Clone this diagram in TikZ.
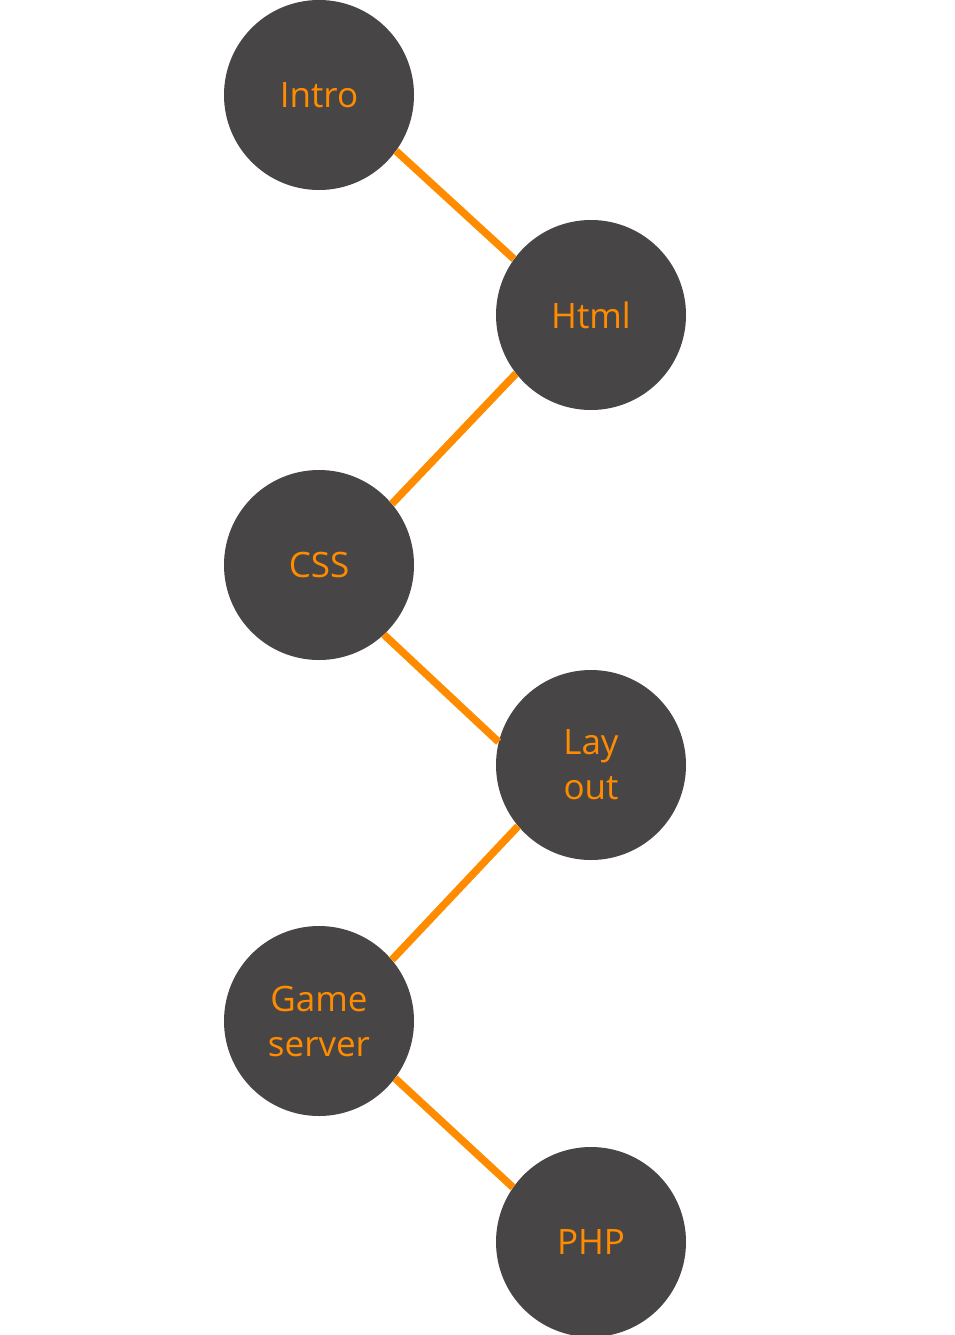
\documentclass[tikz,border=0pt]{standalone}
\usepackage{fontspec}
\setmainfont{Open Sans}
\definecolor{nodegray}{HTML}{474546}
\definecolor{accent}{HTML}{FF8C00}
\begin{document}
\begin{tikzpicture}[x=1pt,y=-1pt,
  topic/.style={circle,fill=nodegray,minimum size=190pt,inner sep=0pt,
    text=accent,align=center,font=\fontsize{35}{45}\selectfont,
    execute at begin node={\vspace*{4pt}}},
  link/.style={draw=accent,line width=7.5pt}]
\useasboundingbox (0,0) rectangle (954,1335);
\clip (0,0) rectangle (954,1335);
\node[topic] (intro) at (319,95) {Intro};
\node[topic] (html) at (591,315) {Html};
\node[topic] (css) at (319,565) {CSS};
\node[topic] (layout) at (591,765) {Lay\\out};
\node[topic] (game) at (319,1021) {Game\\server};
\node[topic] (php) at (591,1242) {PHP};
\draw[link] (intro.-36.6) -- (html.144.2);
\draw[link] (html.218.3) -- (css.40);
\draw[link] (css.-47.5) -- (layout.166.7);
\draw[link] (layout.220) -- (game.40.9);
\draw[link] (game.-37.8) -- (php.145);
\end{tikzpicture}
\end{document}
